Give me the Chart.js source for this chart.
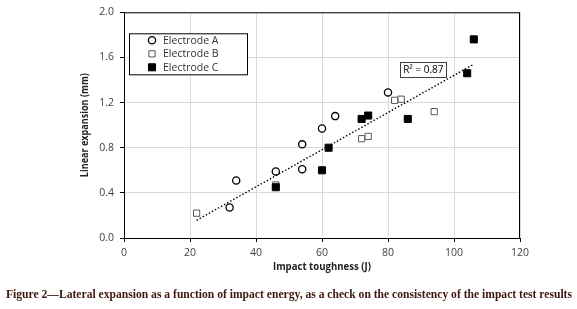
<!DOCTYPE html>
<html>
<head>
<meta charset="utf-8">
<script src="https://cdn.jsdelivr.net/npm/chart.js@4.4.1/dist/chart.umd.min.js"></script>
<style>
html,body{margin:0;padding:0;background:#fff;}
#wrap{width:577px;height:309px;position:relative;}
</style>
</head>
<body>
<div id="wrap"><canvas id="c" width="577" height="309"></canvas></div>
<script>
// ---- data ----
const seriesNames = ["Electrode A", "Electrode B", "Electrode C"];
const electrodeA_x = [32, 34, 46, 54, 54, 60, 64, 80];
const electrodeA_y = [0.27, 0.51, 0.59, 0.83, 0.61, 0.97, 1.08, 1.29];
const electrodeB_x = [22, 46, 72, 74, 82, 84, 94];
const electrodeB_y = [0.22, 0.47, 0.88, 0.90, 1.22, 1.23, 1.12];
const electrodeC_x = [46, 60, 62, 72, 74, 86, 104, 106];
const electrodeC_y = [0.45, 0.60, 0.80, 1.055, 1.085, 1.055, 1.46, 1.76];
const trend_x = [22, 106];
const trend_y = [0.157, 1.54];
const r2Label = "R² = 0.87";
const r2Pos = [90.7, 1.495];
const xTicks = [0, 20, 40, 60, 80, 100, 120];
const yTicks = [0.0, 0.4, 0.8, 1.2, 1.6, 2.0];
const xTitle = "Impact toughness (J)";
const yTitle = "Linear expansion (mm)";
const caption = "Figure 2\u2014Lateral expansion as a function of impact energy, as a check on the consistency of the impact test results";

const pts = (xs, ys) => xs.map((x, i) => ({x, y: ys[i]}));
const SANS = "'Open Sans', 'Noto Sans', sans-serif";

function fitText(ctx, text, font, targetW, x, y) {
  ctx.font = font;
  const w = ctx.measureText(text).width;
  const k = targetW / w;
  ctx.save();
  ctx.translate(x, y);
  ctx.scale(k, 1);
  ctx.fillText(text, 0, 0);
  ctx.restore();
}

const overlay = {
  id: 'overlay',
  afterDatasetsDraw(chart) {
    const {ctx, chartArea: a, scales: {x, y}} = chart;
    ctx.save();
    // plot border
    ctx.strokeStyle = '#000';
    ctx.lineWidth = 1;
    ctx.strokeRect(a.left + 0.5, a.top + 0.5, a.right - a.left - 1, a.bottom - a.top);
    // R2 box
    ctx.font = "10px " + SANS;
    ctx.textBaseline = 'middle';
    ctx.textAlign = 'center';
    const rx = x.getPixelForValue(r2Pos[0]), ry = y.getPixelForValue(r2Pos[1]);
    const tw = ctx.measureText(r2Label).width;
    ctx.fillStyle = '#fff';
    ctx.fillRect(rx - tw/2 - 3, ry - 7.5, tw + 6, 15);
    ctx.strokeStyle = '#404040';
    ctx.strokeRect(Math.round(rx - tw/2 - 3) + 0.5, Math.round(ry - 7.5) + 0.5, Math.round(tw + 6), 15);
    ctx.fillStyle = '#000';
    ctx.fillText(r2Label, rx, ry + 0.5);
    // legend
    const lx = a.left + 5, ly = a.top + 21, lw = 118, lh = 41;
    ctx.fillStyle = '#fff';
    ctx.fillRect(lx, ly, lw, lh);
    ctx.strokeStyle = '#000';
    ctx.strokeRect(lx + 0.5, ly + 0.5, lw, lh);
    const sets = chart.data.datasets.slice(0, 3);
    ctx.textAlign = 'left';
    ctx.font = "10.5px " + SANS;
    sets.forEach((ds, i) => {
      const cy = ly + 7 + i * 13.5;
      const cx = lx + 23;
      ctx.lineWidth = ds.pointBorderWidth;
      ctx.strokeStyle = ds.pointBorderColor;
      ctx.fillStyle = ds.pointBackgroundColor;
      Chart.helpers.drawPoint(ctx, {pointStyle: ds.pointStyle, radius: ds.pointRadius, borderWidth: ds.pointBorderWidth, rotation: 0}, cx, cy);
      ctx.fillStyle = '#333';
      ctx.fillText(ds.label, lx + 34, cy + 0.5);
    });
    // axis titles
    ctx.fillStyle = '#222';
    ctx.textAlign = 'center';
    fitText(ctx, xTitle, "bold 11px " + SANS, 98, (a.left + a.right) / 2, 267);
    ctx.save();
    ctx.translate(85, (a.top + a.bottom) / 2);
    ctx.rotate(-Math.PI / 2);
    fitText(ctx, yTitle, "bold 11px " + SANS, 104, 0, 0);
    ctx.restore();
    // caption
    ctx.textAlign = 'left';
    ctx.fillStyle = '#3d1710';
    fitText(ctx, caption, "bold 12px 'Liberation Serif', serif", 566, 6, 295);
    ctx.restore();
  }
};

new Chart(document.getElementById('c'), {
  type: 'scatter',
  data: {
    datasets: [
      {label: seriesNames[0], data: pts(electrodeA_x, electrodeA_y), pointStyle: 'circle', pointRadius: 3.6,
       pointBorderWidth: 1.3, pointBorderColor: '#000', pointBackgroundColor: '#fff', order: 3},
      {label: seriesNames[1], data: pts(electrodeB_x, electrodeB_y), pointStyle: 'rect', pointRadius: 4.4,
       pointBorderWidth: 1, pointBorderColor: '#595959', pointBackgroundColor: '#fff', order: 2},
      {label: seriesNames[2], data: pts(electrodeC_x, electrodeC_y), pointStyle: 'rect', pointRadius: 5,
       pointBorderWidth: 1, pointBorderColor: '#000', pointBackgroundColor: '#000', order: 1},
      {label: 'Trend', type: 'line', data: pts(trend_x, trend_y), borderColor: '#000', borderWidth: 1.4,
       borderDash: [1.5, 2], pointRadius: 0, fill: false, order: 4}
    ]
  },
  options: {
    responsive: false,
    animation: false,
    events: [],
    layout: {padding: {left: 0, right: 57, top: 8, bottom: 0}},
    plugins: {legend: {display: false}, tooltip: {enabled: false}},
    scales: {
      x: {
        type: 'linear', min: 0, max: 120,
        afterBuildTicks: s => { s.ticks = xTicks.map(v => ({value: v})); },
        afterFit: s => { s.height = 71; },
        ticks: {color: '#404040', font: {family: SANS, size: 10.5}, padding: 5, callback: v => String(v)},
        grid: {color: '#d9d9d9', tickColor: '#000', tickLength: 4, lineWidth: 1},
        border: {color: '#000', width: 1}
      },
      y: {
        type: 'linear', min: 0, max: 2,
        afterBuildTicks: s => { s.ticks = yTicks.map(v => ({value: v})); },
        afterFit: s => { s.width = 124; },
        ticks: {color: '#404040', font: {family: SANS, size: 10.5}, padding: 6, callback: v => Number(v).toFixed(1)},
        grid: {color: '#d9d9d9', tickColor: '#000', tickLength: 4, lineWidth: 1},
        border: {color: '#000', width: 1}
      }
    }
  },
  plugins: [overlay]
});
</script>
</body>
</html>
